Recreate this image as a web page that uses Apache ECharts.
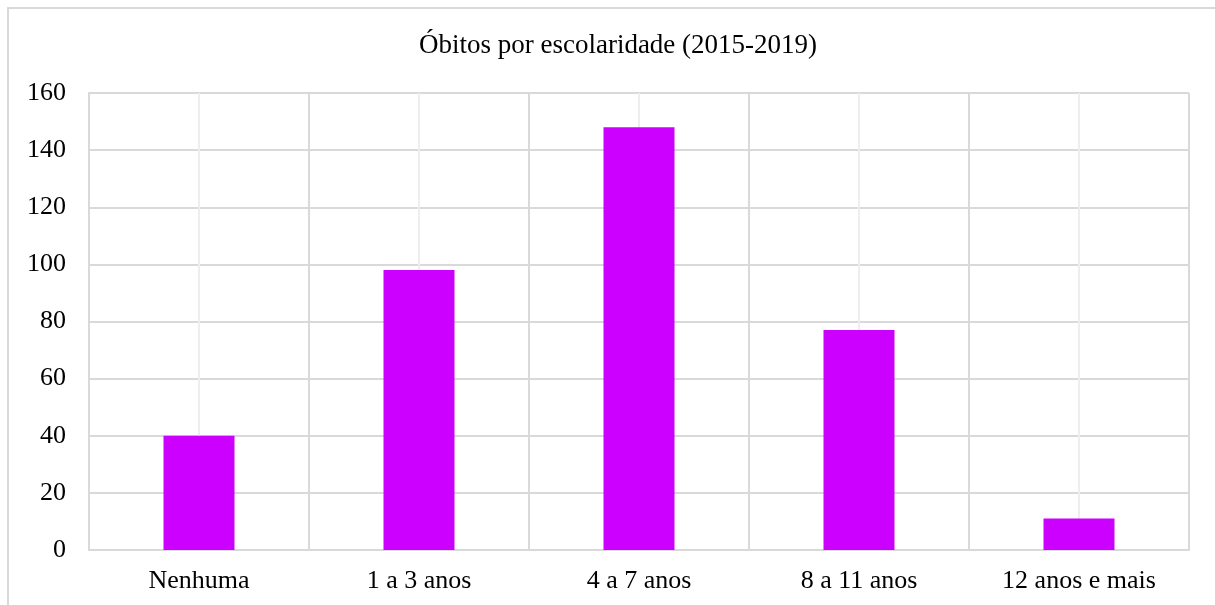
<!DOCTYPE html>
<html>
<head>
<meta charset="utf-8">
<script src="https://cdn.jsdelivr.net/npm/echarts@6/dist/echarts.min.js"></script>
<style>
	html, body { margin: 0; padding: 0; background: #fff; }
	#chart { width: 1215px; height: 605px; }
</style>
</head>
<body>
<div id="chart"></div>
<script>
var titleText = 'Óbitos por escolaridade (2015-2019)';
var categories = ['Nenhuma', '1 a 3 anos', '4 a 7 anos', '8 a 11 anos', '12 anos e mais'];
var obitos = [40, 98, 148, 77, 11];
var yTicks = { min: 0, max: 160, interval: 20 };

var gridColor = '#d9d9d9';
var fontFamily = '"Liberation Serif", "DejaVu Serif", serif';

var chart = echarts.init(document.getElementById('chart'));

// linhas verticais claras no centro de cada categoria
var centerLines = [];
for (var i = 0; i < categories.length; i++) {
	centerLines.push({ xAxis: categories[i] });
}

chart.setOption({
	animation: false,
	backgroundColor: '#fff',
	title: {
		text: titleText,
		left: 613,
		top: 27,
		textAlign: 'center',
		textStyle: {
			fontFamily: fontFamily,
			fontWeight: 'normal',
			fontSize: 27,
			color: '#000'
		}
	},
	graphic: [{
		type: 'rect',
		shape: { x: 8, y: 8, width: 1230, height: 620 },
		style: { fill: null, stroke: gridColor, lineWidth: 2 },
		silent: true
	}],
	grid: {
		left: 89,
		right: 26,
		top: 93,
		bottom: 55
	},
	xAxis: {
		type: 'category',
		data: categories,
		axisLine: { show: true, lineStyle: { color: gridColor, width: 2 } },
		axisTick: { show: false },
		splitLine: { show: true, lineStyle: { color: gridColor, width: 2 } },
		axisLabel: {
			margin: 18,
			fontFamily: fontFamily,
			fontSize: 26,
			color: '#000'
		}
	},
	yAxis: {
		type: 'value',
		min: yTicks.min,
		max: yTicks.max,
		interval: yTicks.interval,
		axisLine: { show: true, lineStyle: { color: gridColor, width: 2 } },
		axisTick: { show: false },
		splitLine: { show: true, lineStyle: { color: gridColor, width: 2 } },
		axisLabel: {
			margin: 23,
			fontFamily: fontFamily,
			fontSize: 26,
			color: '#000'
		}
	},
	series: [{
		name: 'centros',
		type: 'line',
		data: [],
		z: 1,
		silent: true,
		markLine: {
			z: 1,
			silent: true,
			symbol: 'none',
			label: { show: false },
			lineStyle: { color: '#eeeeee', width: 2, type: 'solid' },
			data: centerLines
		}
	}, {
		name: 'Óbitos',
		type: 'bar',
		z: 3,
		barWidth: 71,
		itemStyle: { color: '#cc00ff' },
		data: obitos
	}]
});
</script>
</body>
</html>
